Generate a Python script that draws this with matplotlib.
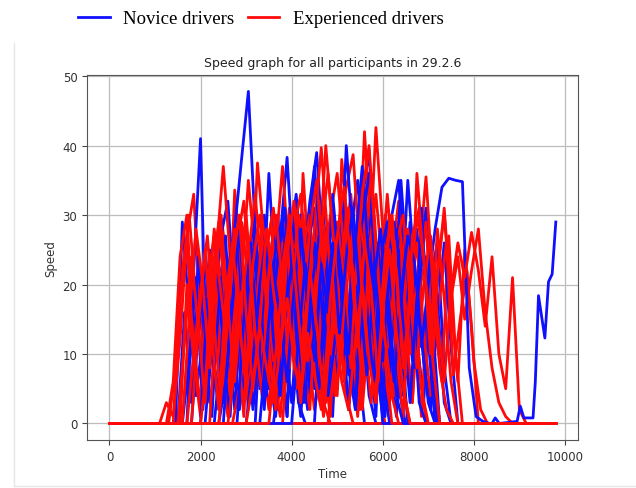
import numpy as np
import matplotlib
matplotlib.use('Agg')
import matplotlib.pyplot as plt
from matplotlib.lines import Line2D

# speed samples every 150 time units, starting at t0; each driver sits at 0 before t0 and after the run until "stop"
dt = 150

# experienced drivers (red)
r1_t0, r1_stop = 1100, 9800
r1 = [0, 3, 1, 12, 27, 33, 15, 4, 18, 30, 22, 8, 20, 35, 24, 10, 2, 16, 28, 20, 6, 18, 26, 12, 3, 0]
r2_t0, r2_stop = 1300, 7900
r2 = [0, 8, 22, 30, 18, 6, 14, 25, 37, 24, 12, 3, 15, 37.5, 26, 11, 22, 30, 17, 5, 20, 31, 24, 40, 28, 14, 4, 0]
r3_t0, r3_stop = 1400, 9800
r3 = [0, 18, 26, 10, 2, 16, 28, 20, 9, 33.6, 22, 7, 19, 27, 14, 25, 37, 23, 8, 36, 21, 10, 27, 18, 5, 24,
      33, 20, 42, 26, 12, 30, 18, 4, 15, 25, 9, 0]
r4_t0, r4_stop = 1500, 9800
r4 = [0, 12, 24, 14, 3, 21, 29, 17, 6, 22, 30, 18, 8, 25, 31, 20, 9, 28, 33, 22, 12, 30, 25, 10, 38, 27,
      14, 31, 22, 42.6, 28, 16, 29, 20, 10, 36, 24, 14, 22, 30, 18, 24, 15, 22, 28, 16, 8, 3, 1, 0]
r5_t0, r5_stop = 1600, 8000
r5 = [0, 15, 28, 20, 8, 24, 16, 4, 26, 32, 20, 10, 23, 29, 16, 5, 19, 30, 25, 14, 32, 22, 8, 26, 34, 38.7,
      24, 12, 28, 20, 33, 21, 10, 24, 16, 5, 0]
r6_t0, r6_stop = 1700, 9000
r6 = [0, 10, 19, 27, 14, 3, 20, 28, 11, 24, 33, 21, 6, 17, 26, 14, 24, 30, 18, 6, 22, 30, 36, 25, 12, 27,
      34, 20, 8, 22, 30, 19, 28, 14, 24, 35.5, 20, 8, 2, 0]
r7_t0, r7_stop = 1800, 9800
r7 = [0, 14, 25, 12, 2, 18, 26, 15, 5, 23, 30, 19, 9, 21, 27, 12, 3, 20, 28, 39.7, 26, 13, 24, 31, 17, 6,
      25, 33, 22, 11, 26, 30, 18, 8, 20, 27, 15, 6, 19, 26, 21, 27.5, 22, 14, 24, 10, 5, 21, 2, 0]
r8_t0, r8_stop = 2000, 9800
r8 = [0, 9, 20, 29, 17, 6, 18, 26, 13, 4, 22, 30, 20, 8, 25, 17, 28, 35, 22, 10, 29, 21, 8, 30, 25, 36,
      22, 12, 4, 0]
r9_t0, r9_stop = 2400, 9800
r9 = [0, 12, 23, 30, 16, 5, 14, 28, 19, 11, 24, 32, 20, 9, 16, 27, 36, 24, 12, 26, 20, 33, 40, 25, 14, 29,
      22, 8, 19, 30, 24, 10, 28, 18, 6, 0]
r10_t0, r10_stop = 3000, 9800
r10 = [0, 6, 14, 8, 3, 11, 18, 9, 4, 13, 7, 2, 10, 15, 6, 2, 12, 20, 9, 3, 16, 25, 13, 5, 0]
r11_t0, r11_stop = 3500, 9800
r11 = [0, 10, 21, 30, 19, 8, 22, 14, 4, 18, 27, 34, 23, 11, 26, 19, 6, 24, 30, 17, 7, 27, 31, 20, 9, 0]
r12_t0, r12_stop = 1250, 9800
r12 = [0, 6, 24, 30, 12, 2, 20, 27, 9, 1, 17, 29, 21, 5, 14, 26, 8, 19, 31, 16, 4, 22, 28, 11, 2, 18, 25,
       7, 15, 30, 20, 6, 0]
r13_t0, r13_stop = 1550, 8600
r13 = [0, 20, 9, 1, 14, 23, 6, 18, 29, 13, 2, 10, 24, 16, 3, 21, 30, 11, 4, 17, 27, 9, 1, 20, 32, 18, 5,
       13, 26, 10, 2, 22, 29, 14, 3, 19, 24, 8, 0]
r14_t0, r14_stop = 2200, 9800
r14 = [0, 17, 4, 25, 13, 1, 19, 8, 27, 15, 2, 21, 11, 29, 6, 16, 24, 3, 20, 12, 31, 18, 2, 14, 26, 9, 23,
       4, 17, 28, 12, 1, 21, 15, 6, 27, 10, 0]
r15_t0, r15_stop = 2700, 9800
r15 = [0, 5, 12, 3, 9, 16, 7, 1, 13, 20, 6, 11, 2, 8, 15, 4, 10, 18, 7, 2, 14, 22, 9, 3, 12, 5, 0]
r16_t0, r16_stop = 3800, 9800
r16 = [0, 14, 26, 9, 2, 19, 28, 15, 4, 23, 12, 1, 17, 27, 20, 6, 24, 32, 14, 3, 21, 29, 11, 18, 26, 7, 15,
       22, 9, 2, 0]
r17_t0, r17_stop = 4800, 9800
r17 = [0, 12, 25, 8, 19, 30, 16, 3, 22, 28, 10, 1, 18, 26, 13, 4, 21, 31, 17, 6, 25, 14, 0]
r18_t0, r18_stop = 2600, 9800
r18 = [0, 8, 19, 4, 15, 27, 11, 2, 22, 16, 5, 25, 30, 9, 1, 13, 21, 6, 18, 28, 12, 3, 20, 9, 0]

# novice drivers (blue)
b1_t0, b1_stop = 1450, 7800
b1 = [0, 29, 16, 4, 12, 25, 14, 3, 19, 27, 13, 5, 22, 30, 18, 7, 24, 15, 3, 0]
b2_t0, b2_stop = 1700, 8000
b2 = [0, 22, 41, 3, 16, 27, 32, 18, 6, 20, 28, 14, 36, 20, 8, 23, 30, 17, 5, 19, 28, 14, 24, 33, 20, 9, 0]
b3_t0, b3_stop = 1800, 9000
b3 = [0, 13, 24, 10, 2, 15, 26, 12, 21, 29, 16, 5, 18, 27, 38.3, 22, 9, 25, 31, 19, 8, 22, 29, 16, 25, 32,
      39.4, 20, 7, 0]
b4_t0, b4_stop = 2000, 8000
b4 = [0, 18, 8, 21, 12, 2, 17, 24, 11, 27, 19, 6, 15, 26, 33, 21, 10, 24, 30, 17, 6, 20, 28, 35, 22, 12,
      26, 18, 30, 35, 21, 9, 24, 31, 14, 0]
b5_t0, b5_stop = 2300, 8200
b5 = [0, 10, 22, 28, 38, 47.8, 28, 15, 5, 20, 29, 17, 6, 22, 32, 39, 24, 12, 27, 20, 7, 23, 34, 24, 11, 26,
      18, 5, 0]
b6_t0, b6_stop = 2500, 9100
b6 = [0, 14, 25, 13, 3, 18, 26, 15, 24, 31, 20, 9, 27, 19, 7, 21, 30, 18, 40, 26, 12, 28, 20, 8, 22, 29,
      16, 35, 22, 11, 20, 28, 34, 35.3, 35, 34.8, 8, 1, 0.3, 0]
b7_t0, b7_stop = 2800, 8500
b7 = [0, 15, 26, 13, 4, 19, 28, 16, 26, 12, 3, 20, 27, 15, 33, 22, 10, 25, 31, 17, 6, 24, 29, 15, 35, 21,
      8, 31, 12, 0]
b8_t0, b8_stop = 3000, 9300
b8 = [0, 9, 20, 27, 12, 4, 18, 25, 14, 22, 37, 24, 11, 26, 19, 7, 24, 29, 36, 21, 9, 24, 28, 14, 3, 18,
      25, 10, 0]
b9_t0, b9_stop = 3300, 8000
b9 = [0, 11, 22, 15, 6, 19, 28, 17, 9, 23, 16, 29, 21, 10, 26, 37, 23, 12, 25, 16, 4, 0]
b10_t0 = 4000
b10 = [0, 12, 23, 16, 5, 17, 26, 13, 24, 31, 18, 7, 20, 28, 16, 6, 18, 27, 23, 12, 3, 0]
b10_tail_time = [8400, 8470, 8560, 8950, 9020, 9100, 9300, 9350, 9420, 9560, 9640, 9720, 9800]
b10_tail_speed = [0, 0.8, 0, 0.3, 2.5, 0.8, 0.8, 6, 18.4, 12.3, 20.4, 21.5, 29]
b11_t0, b11_stop = 1500, 7500
b11 = [0, 16, 3, 24, 11, 1, 19, 27, 8, 2, 15, 22, 5, 18, 28, 13, 1, 20, 9, 25, 14, 3, 17, 29, 10, 2, 23,
       16, 4, 0]
b12_t0, b12_stop = 1600, 8000
b12 = [0, 9, 21, 2, 13, 26, 10, 1, 18, 6, 24, 14, 2, 20, 30, 12, 3, 16, 25, 7, 19, 11, 1, 22, 31, 15, 4,
       18, 27, 9, 2, 20, 13, 0]
b13_t0, b13_stop = 2100, 9300
b13 = [0, 12, 3, 22, 15, 2, 9, 25, 17, 4, 20, 11, 1, 23, 30, 14, 5, 19, 8, 26, 16, 2, 13, 28, 20, 6, 24,
       10, 1, 17, 29, 12, 3, 21, 26, 8, 0]
b14_t0, b14_stop = 3200, 8000
b14 = [0, 19, 7, 1, 15, 24, 10, 3, 21, 13, 2, 18, 27, 8, 16, 4, 22, 30, 12, 1, 14, 25, 9, 19, 3, 0]
b15_t0, b15_stop = 3600, 9300
b15 = [0, 8, 20, 29, 11, 2, 16, 25, 6, 19, 31, 14, 3, 22, 12, 1, 24, 30, 17, 5, 20, 27, 9, 2, 15, 26, 11, 0]
b16_t0, b16_stop = 4500, 9300
b16 = [0, 17, 6, 22, 30, 13, 2, 19, 26, 9, 1, 24, 15, 4, 21, 28, 12, 25, 18, 3, 0]
b17_t0, b17_stop = 2400, 8000
b17 = [0, 6, 17, 28, 14, 2, 11, 23, 7, 20, 29, 10, 1, 15, 26, 18, 4, 12, 24, 8, 2, 19, 27, 13, 0]

red_runs = [(r1_t0, r1, r1_stop), (r12_t0, r12, r12_stop), (r2_t0, r2, r2_stop), (r13_t0, r13, r13_stop),
            (r3_t0, r3, r3_stop), (r14_t0, r14, r14_stop), (r4_t0, r4, r4_stop), (r15_t0, r15, r15_stop),
            (r16_t0, r16, r16_stop), (r5_t0, r5, r5_stop), (r17_t0, r17, r17_stop), (r6_t0, r6, r6_stop),
            (r18_t0, r18, r18_stop), (r7_t0, r7, r7_stop), (r8_t0, r8, r8_stop), (r9_t0, r9, r9_stop),
            (r10_t0, r10, r10_stop), (r11_t0, r11, r11_stop)]
blue_runs = [(b1_t0, b1, b1_stop), (b11_t0, b11, b11_stop), (b2_t0, b2, b2_stop), (b12_t0, b12, b12_stop),
             (b3_t0, b3, b3_stop), (b13_t0, b13, b13_stop), (b4_t0, b4, b4_stop), (b14_t0, b14, b14_stop),
             (b15_t0, b15, b15_stop), (b5_t0, b5, b5_stop), (b16_t0, b16, b16_stop), (b6_t0, b6, b6_stop),
             (b17_t0, b17, b17_stop), (b7_t0, b7, b7_stop), (b8_t0, b8, b8_stop), (b9_t0, b9, b9_stop),
             (b10_t0, b10, None)]


def build(t0, v, stop):
    t = [0] + [t0 + dt * i for i in range(len(v))]
    s = [0] + list(v)
    if stop is None:
        t += b10_tail_time
        s += b10_tail_speed
    else:
        t.append(stop)
        s.append(0)
    return np.array(t), np.array(s)


fig = plt.figure(figsize=(6.36, 4.89), dpi=100)
ax = fig.add_axes([0.137, 0.098, 0.772, 0.747])

lw = 2.0
blue_line = red_line = None
for i in range(len(red_runs)):
    if i < len(blue_runs):
        t, s = build(*blue_runs[i])
        blue_line, = ax.plot(t, s, color='#1010ff', lw=lw)
    t, s = build(*red_runs[i])
    red_line, = ax.plot(t, s, color='#ff0a0a', lw=lw)

ax.set_xticks([0, 2000, 4000, 6000, 8000, 10000])
ax.set_yticks([0, 10, 20, 30, 40, 50])
ax.grid(True, color='#bcbcbc', lw=0.9)
ax.set_axisbelow(True)
ax.tick_params(labelsize=8.5, colors='#444444', labelcolor='#333333')
for sp in ax.spines.values():
    sp.set_color('#555555')
ax.set_xlabel('Time', fontsize=8.5, color='#333333', labelpad=3)
ax.set_ylabel('Speed', fontsize=8.5, color='#333333', labelpad=4)
ax.set_title('Speed graph for all participants in 29.2.6', fontsize=9, color='#222222', pad=6)

fig.legend([blue_line, red_line], ['Novice drivers', 'Experienced drivers'], loc='center',
           bbox_to_anchor=(0.41, 0.96), ncol=2, frameon=False,
           prop={'family': 'Liberation Serif', 'size': 13.5},
           handlelength=1.7, handletextpad=0.7, columnspacing=0.7)

# faint border of the pasted figure
fig.add_artist(Line2D([14 / 636, 14 / 636], [2 / 489, 445 / 489], color='#e6e6e6', lw=1,
                      transform=fig.transFigure))
fig.add_artist(Line2D([14 / 636, 1.0], [2 / 489, 2 / 489], color='#e6e6e6', lw=1,
                      transform=fig.transFigure))

fig.savefig('out.png', dpi=100)
